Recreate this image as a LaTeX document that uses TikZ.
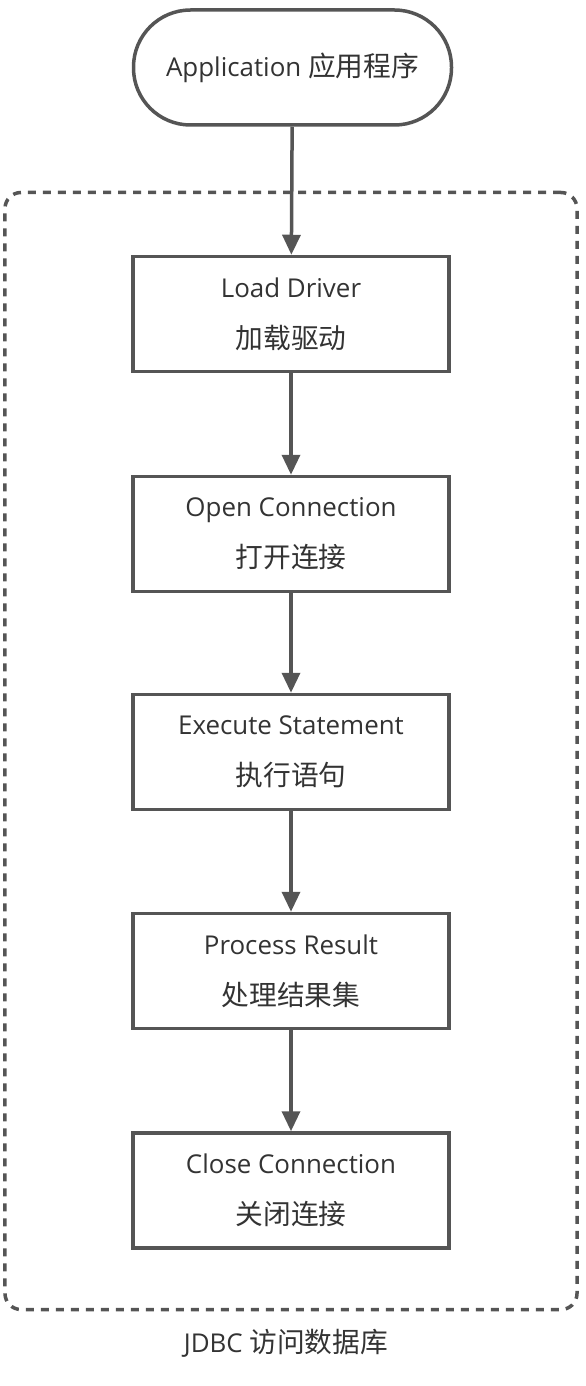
\documentclass[tikz,border=0pt]{standalone}
\usepackage{fontspec}
\setmainfont{Open Sans}
\newfontfamily\cjk[Scale=1.07]{Noto Sans CJK SC}
\usetikzlibrary{arrows.meta}
\definecolor{linec}{HTML}{555555}
\definecolor{textc}{HTML}{333333}
\tikzset{
  stepbox/.style={draw=linec, line width=3.5bp, fill=white, minimum width=316bp, minimum height=115bp,
    align=center, text=textc, font=\fontsize{26}{51}\selectfont, inner sep=0pt},
  pill/.style={draw=linec, line width=3.5bp, fill=white, minimum width=318bp, minimum height=115bp,
    rounded corners=57bp, text=textc, font=\fontsize{26}{30}\selectfont, inner sep=0pt},
  flow/.style={draw=linec, line width=3.5bp, -{Triangle[length=20bp,width=18bp]}},
  groupbox/.style={draw=linec, line width=3.5bp, dash pattern=on 8bp off 7bp, rounded corners=16bp,
    minimum width=572bp, minimum height=1117bp, inner sep=0pt},
  lbl/.style={text=textc, font=\fontsize{26}{30}\selectfont, inner sep=0pt}
}
\begin{document}
\begin{tikzpicture}[x=1bp,y=-1bp]
\useasboundingbox (0,0) rectangle (586,1386);
\node[groupbox] (group) at (291,751) {};
\node[pill] (app) at (292.5,67.5) {\raisebox{-2bp}{Application {\cjk 应用程序}}};
\node[stepbox] (s1) at (291,314) {Load Driver\\{\cjk 加载驱动}};
\node[stepbox] (s2) at (291,534) {Open Connection\\{\cjk 打开连接}};
\node[stepbox] (s3) at (291,752) {Execute Statement\\{\cjk 执行语句}};
\node[stepbox] (s4) at (291,971) {Process Result\\{\cjk 处理结果集}};
\node[stepbox] (s5) at (291,1190.5) {Close Connection\\{\cjk 关闭连接}};
\node[lbl] (glabel) at (286,1343) {JDBC {\cjk 访问数据库}};
\draw[flow] (app) -- (s1);
\draw[flow] (s1) -- (s2);
\draw[flow] (s2) -- (s3);
\draw[flow] (s3) -- (s4);
\draw[flow] (s4) -- (s5);
\end{tikzpicture}
\end{document}
